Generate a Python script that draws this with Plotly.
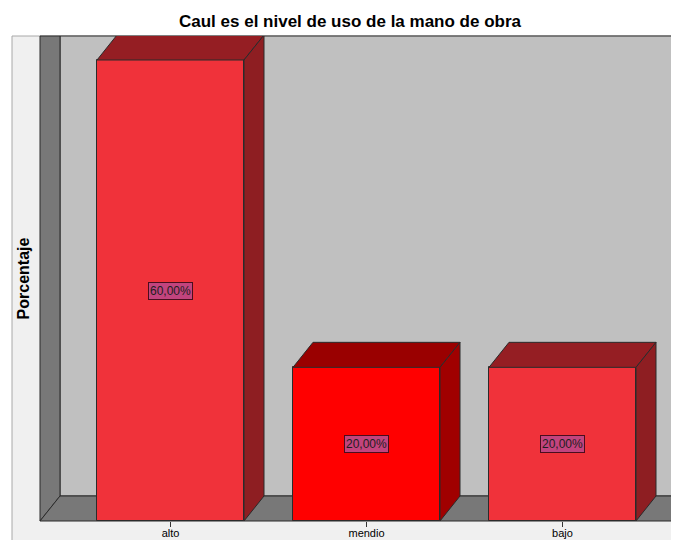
import plotly.graph_objects as go

# ---- data ----
categories = ["alto", "mendio", "bajo"]
values = [60.0, 20.0, 20.0]
labels = ["60,00%", "20,00%", "20,00%"]
front_colors = ["#F0323A", "#FF0000", "#F0323A"]
top_colors = ["#951E23", "#9A0000", "#951E23"]
side_colors = ["#8E1E22", "#A00000", "#8E1E22"]
title_text = "Caul es el nivel de uso de la mano de obra"
y_title = "Porcentaje"

# ---- layout geometry (page pixels; the page body has an 8px margin) ----
OFF = 8
PW, PH = 679, 540
W, H = PW - OFF, PH - OFF
L, T, B = 40, 36, 521
CAT_PX = 196.0
X0_PX = 170.5
PX_PER_UNIT = 461.0 / 60.0
DX_PX, DY_PX = 20.0, 25.0
BAR_W = 147.0 / CAT_PX

xr = [(L - X0_PX) / CAT_PX, (PW - X0_PX) / CAT_PX]
yr = [0, (B - T) / PX_PER_UNIT]
ddx = DX_PX / CAT_PX
ddy = DY_PX / PX_PER_UNIT

def px(x):
    return (x - L) / (PW - L)

def py(y):
    return (B - y) / (B - T)

EDGE = "#2B2B2B"
fig = go.Figure()

fig.add_trace(go.Bar(
    x=list(range(len(categories))), y=values, width=BAR_W,
    marker=dict(color=front_colors, line=dict(color=EDGE, width=1)),
    hoverinfo="skip", showlegend=False,
))

for i, v in enumerate(values):
    xl, xrr = i - BAR_W / 2, i + BAR_W / 2
    fig.add_trace(go.Scatter(
        x=[xl, xrr, xrr + ddx, xl + ddx, xl], y=[v, v, v + ddy, v + ddy, v],
        mode="lines", fill="toself", fillcolor=top_colors[i],
        line=dict(color=EDGE, width=1), hoverinfo="skip", showlegend=False))
    fig.add_trace(go.Scatter(
        x=[xrr, xrr, xrr + ddx, xrr + ddx, xrr], y=[0, v, v + ddy, ddy, 0],
        mode="lines", fill="toself", fillcolor=side_colors[i],
        line=dict(color=EDGE, width=1), hoverinfo="skip", showlegend=False))

for i, (v, t) in enumerate(zip(values, labels)):
    fig.add_annotation(x=i, y=v / 2, text=t, showarrow=False,
                       font=dict(family="Liberation Sans", size=12, color="#1E1E1E"),
                       bgcolor="#C2447E", bordercolor="#4A0D1D", borderwidth=1,
                       borderpad=1)

shapes = [
    dict(type="rect", xref="paper", yref="paper", x0=px(12), x1=px(700),
         y0=py(560), y1=py(36), fillcolor="#F0F0F0",
         line=dict(color="#A8A8A8", width=1), layer="below"),
    dict(type="path", xref="paper", yref="paper",
         path=f"M{px(L+DX_PX)},{py(B-DY_PX)} L{px(L+DX_PX)},{py(T)} L{px(700)},{py(T)} L{px(700)},{py(B-DY_PX)} Z",
         fillcolor="#C0C0C0", line=dict(color=EDGE, width=1), layer="below"),
    dict(type="path", xref="paper", yref="paper",
         path=f"M{px(L)},{py(T)} L{px(L+DX_PX)},{py(T)} L{px(L+DX_PX)},{py(B-DY_PX)} L{px(L)},{py(B)} Z",
         fillcolor="#787878", line=dict(color=EDGE, width=1), layer="below"),
    dict(type="path", xref="paper", yref="paper",
         path=f"M{px(L)},{py(B)} L{px(L+DX_PX)},{py(B-DY_PX)} L{px(700)},{py(B-DY_PX)} L{px(700)},{py(B)} Z",
         fillcolor="#787878", line=dict(color=EDGE, width=1), layer="below"),
]

fig.update_layout(
    width=W, height=H,
    margin=dict(l=L - OFF, r=0, t=T - OFF, b=PH - B),
    paper_bgcolor="white", plot_bgcolor="rgba(0,0,0,0)",
    shapes=shapes,
    title=dict(text=title_text, x=px(350), xref="paper", xanchor="center",
               y=1 - (21 - OFF) / H, yanchor="middle",
               font=dict(family="Liberation Sans", size=17, color="#000000", weight="bold")),
    xaxis=dict(range=xr, tickmode="array", tickvals=list(range(len(categories))),
               ticktext=categories, ticks="outside", ticklen=5, tickcolor="#333333",
               ticklabelstandoff=-3,
               showgrid=False, zeroline=False, showline=False, automargin=False,
               tickfont=dict(family="Liberation Sans", size=11, color="#000000")),
    yaxis=dict(range=yr, showticklabels=False, ticks="", showgrid=False,
               zeroline=False, showline=False, automargin=False,
               title=dict(text=y_title, standoff=5,
                          font=dict(family="Liberation Sans", size=16, color="#000000", weight="bold"))),
    bargap=0,
)

fig.write_html("out.html")
